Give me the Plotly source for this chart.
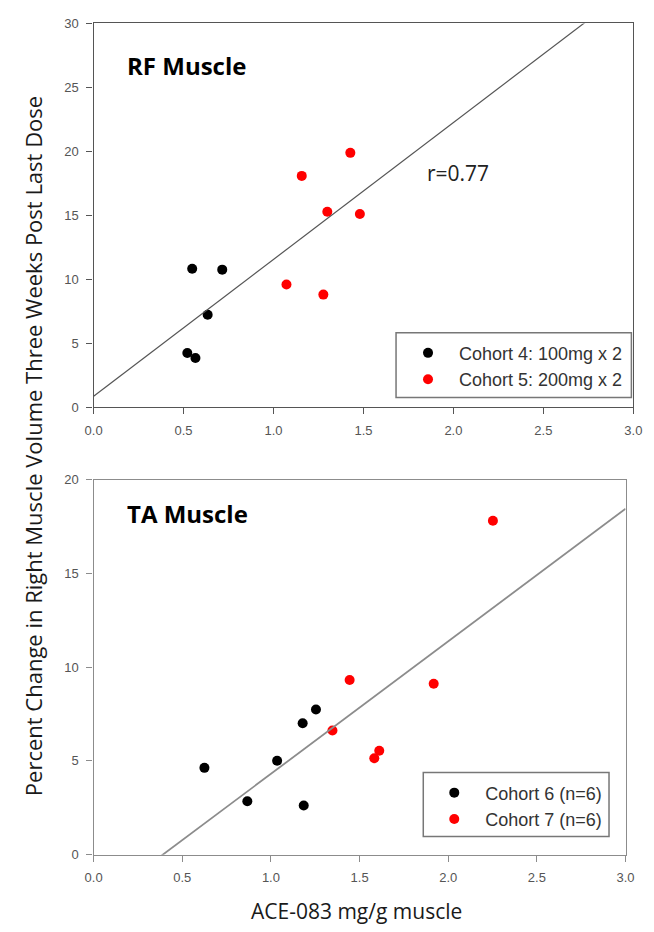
import plotly.graph_objects as go

W, H = 654, 932

# ---- RF muscle: cohorts 4 and 5 ----
rf_c4_dose = [0.548, 0.715, 0.634, 0.521, 0.566]
rf_c4_change = [10.82, 10.75, 7.23, 4.23, 3.85]
rf_c5_dose = [1.157, 1.427, 1.299, 1.480, 1.072, 1.277]
rf_c5_change = [18.08, 19.88, 15.28, 15.10, 9.59, 8.80]
rf_fit_intercept, rf_fit_slope = 0.85, 10.7
rf_r_label = "r=0.77"

# ---- TA muscle: cohorts 6 and 7 ----
ta_c6_dose = [0.625, 0.867, 1.035, 1.179, 1.254, 1.185]
ta_c6_change = [4.63, 2.85, 5.01, 7.01, 7.74, 2.62]
ta_c7_dose = [1.347, 1.444, 1.583, 1.611, 1.918, 2.252]
ta_c7_change = [6.62, 9.32, 5.14, 5.54, 9.12, 17.81]
ta_fit_intercept, ta_fit_slope = -2.76, 7.07

x_range = [0, 3]
rf_y_range = [0, 30]
ta_y_range = [0, 20]

rf_names = ["Cohort 4: 100mg x 2", "Cohort 5: 200mg x 2"]
ta_names = ["Cohort 6 (n=6)", "Cohort 7 (n=6)"]


def xp(px):
    return px / W


def yp(py):
    return 1 - py / H


TICK_FONT = dict(family="Liberation Sans, Arial", size=13, color="#555")
LABEL_FONT = "Open Sans, Lato, sans-serif"

fig = go.Figure()

marker_style = dict(size=10, line=dict(width=0))

# RF scatter + fit
fig.add_trace(go.Scatter(x=rf_c4_dose, y=rf_c4_change, mode="markers", name=rf_names[0],
                         marker=dict(color="#000000", **marker_style), xaxis="x", yaxis="y",
                         legend="legend"))
fig.add_trace(go.Scatter(x=rf_c5_dose, y=rf_c5_change, mode="markers", name=rf_names[1],
                         marker=dict(color="#ff0000", **marker_style), xaxis="x", yaxis="y",
                         legend="legend"))
fig.add_trace(go.Scatter(x=x_range, y=[rf_fit_intercept + rf_fit_slope * v for v in x_range],
                         mode="lines", line=dict(color="#555555", width=1.2),
                         showlegend=False, xaxis="x", yaxis="y", hoverinfo="skip"))

# TA scatter + fit
fig.add_trace(go.Scatter(x=ta_c6_dose, y=ta_c6_change, mode="markers", name=ta_names[0],
                         marker=dict(color="#000000", **marker_style), xaxis="x2", yaxis="y2",
                         legend="legend2"))
fig.add_trace(go.Scatter(x=ta_c7_dose, y=ta_c7_change, mode="markers", name=ta_names[1],
                         marker=dict(color="#ff0000", **marker_style), xaxis="x2", yaxis="y2",
                         legend="legend2"))
fig.add_trace(go.Scatter(x=x_range, y=[ta_fit_intercept + ta_fit_slope * v for v in x_range],
                         mode="lines", line=dict(color="#8c8c8c", width=1.8),
                         showlegend=False, xaxis="x2", yaxis="y2", hoverinfo="skip"))


def axis(domain, rng, dtick, fmt, anchor, color):
    return dict(domain=domain, range=rng, dtick=dtick, tick0=0, tickformat=fmt,
                ticks="outside", ticklen=6, tickwidth=1.2, tickcolor=color,
                showline=True, linecolor=color, linewidth=1.4, mirror=True,
                showgrid=False, zeroline=False, anchor=anchor, tickfont=TICK_FONT,
                ticklabelstandoff=5, fixedrange=True)


top_x = [xp(87), xp(642)]
top_y = [yp(406.7), yp(16.7)]
bot_x = [xp(87), xp(634)]
bot_y = [yp(861.5), yp(480.5)]

legend_font = dict(family="Liberation Sans, Arial", size=18, color="#333")

fig.update_layout(
    width=W, height=H,
    margin=dict(l=0, r=0, t=0, b=0),
    paper_bgcolor="white", plot_bgcolor="white",
    xaxis=axis(top_x, x_range, 0.5, ".1f", "y", "#555"),
    yaxis=axis(top_y, rf_y_range, 5, "d", "x", "#555"),
    xaxis2=axis(bot_x, x_range, 0.5, ".1f", "y2", "#8c8c8c"),
    yaxis2=axis(bot_y, ta_y_range, 5, "d", "x2", "#8c8c8c"),
    legend=dict(x=xp(399), y=yp(333), xanchor="left", yanchor="top",
                bgcolor="rgba(0,0,0,0)", borderwidth=0, font=legend_font,
                itemwidth=52),
    legend2=dict(x=xp(426), y=yp(780), xanchor="left", yanchor="top",
                 bgcolor="rgba(0,0,0,0)", borderwidth=0, font=legend_font,
                 itemwidth=52),
    showlegend=True,
)

# legend frames
box_line = dict(color="#777777", width=1.5)
fig.add_shape(type="rect", xref="paper", yref="paper",
              x0=xp(398), x1=xp(640), y0=yp(397), y1=yp(331), line=box_line)
fig.add_shape(type="rect", xref="paper", yref="paper",
              x0=xp(426), x1=xp(617), y0=yp(843), y1=yp(778), line=box_line)

title_font = dict(family=LABEL_FONT, size=24, color="#000", weight="bold")
fig.add_annotation(text="RF Muscle", xref="paper", yref="paper", x=xp(119), y=yp(59),
                   xanchor="left", yanchor="middle", showarrow=False, font=title_font)
fig.add_annotation(text="TA Muscle", xref="paper", yref="paper", x=xp(119), y=yp(515),
                   xanchor="left", yanchor="middle", showarrow=False, font=title_font)
fig.add_annotation(text=rf_r_label, xref="paper", yref="paper", x=xp(428), y=yp(169),
                   xanchor="left", yanchor="middle", showarrow=False,
                   font=dict(family=LABEL_FONT, size=21, color="#222"))

# shared axis titles
fig.add_annotation(text="Percent Change in Right Muscle Volume Three Weeks Post Last Dose",
                   xref="paper", yref="paper", x=xp(24), y=yp(446), textangle=-90,
                   xanchor="center", yanchor="middle", showarrow=False,
                   font=dict(family=LABEL_FONT, size=22, color="#1a1a1a"))
fig.add_annotation(text="ACE-083 mg/g muscle", xref="paper", yref="paper",
                   x=xp(357), y=yp(919), xanchor="center", yanchor="middle",
                   showarrow=False, font=dict(family=LABEL_FONT, size=21, color="#1a1a1a"))

fig.write_html("out.html")
